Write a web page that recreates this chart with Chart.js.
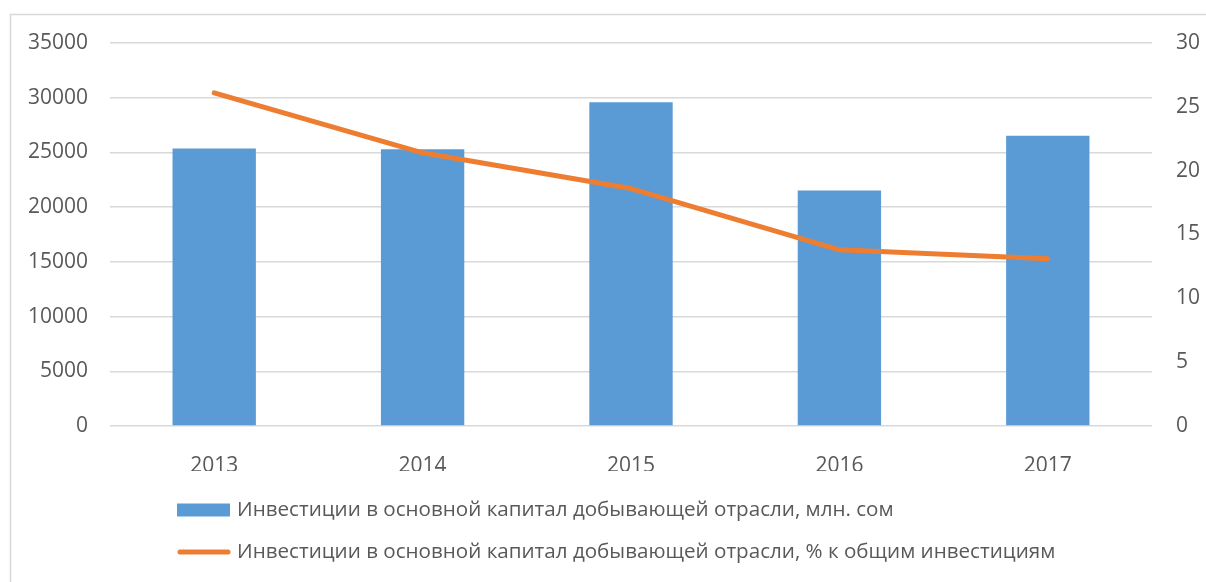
<!DOCTYPE html>
<html>
<head>
<meta charset="utf-8">
<script src="https://cdn.jsdelivr.net/npm/chart.js@4.4.1/dist/chart.umd.min.js"></script>
<style>
  html, body { margin: 0; padding: 0; background: #ffffff; }
  #wrap { position: relative; width: 1206px; height: 582px; }
</style>
</head>
<body>
<div id="wrap"><canvas id="c" width="1206" height="582"></canvas></div>
<script>
const years = ['2013', '2014', '2015', '2016', '2017'];
const investMln = [25370, 25280, 29580, 21530, 26520];
const investPct = [26.1, 21.4, 18.6, 13.8, 13.1];
const leftTicks = [0, 5000, 10000, 15000, 20000, 25000, 30000, 35000];
const rightTicks = [0, 5, 10, 15, 20, 25, 30];
const labelBar = 'Инвестиции в основной капитал добывающей отрасли, млн. сом';
const labelLine = 'Инвестиции в основной капитал добывающей отрасли, % к общим инвестициям';

const FONT = '"Open Sans", "DejaVu Sans", sans-serif';
const TXT = '#595959';
const BLUE = '#5B9BD5';
const ORANGE = '#ED7D31';
const GRID = '#d9d9d9';

const frameAndLegend = {
  id: 'frameAndLegend',
  beforeDraw(chart) {
    const ctx = chart.ctx;
    ctx.save();
    ctx.fillStyle = '#ffffff';
    ctx.fillRect(0, 0, chart.width, chart.height);
    ctx.strokeStyle = GRID;
    ctx.lineWidth = 1.5;
    ctx.strokeRect(10.5, 14.5, 1400, 800);
    ctx.restore();
  },
  afterDraw(chart) {
    const ctx = chart.ctx;
    const ds = chart.data.datasets;
    const bar = ds.find(d => d.type === 'bar');
    const line = ds.find(d => d.type === 'line');
    ctx.save();
    ctx.font = '20.6px ' + FONT;
    ctx.textBaseline = 'middle';
    ctx.textAlign = 'left';
    // bar item
    const y1 = 510;
    ctx.fillStyle = bar.backgroundColor;
    ctx.fillRect(177, y1 - 6.5, 53, 13);
    ctx.fillStyle = TXT;
    ctx.fillText(bar.label, 237, y1);
    // line item
    const y2 = 552;
    ctx.strokeStyle = line.borderColor;
    ctx.lineWidth = 5;
    ctx.lineCap = 'round';
    ctx.beginPath();
    ctx.moveTo(180, y2);
    ctx.lineTo(228, y2);
    ctx.stroke();
    ctx.fillStyle = TXT;
    ctx.fillText(line.label, 237, y2);
    ctx.restore();
  }
};

new Chart(document.getElementById('c'), {
  type: 'bar',
  data: {
    labels: years,
    datasets: [
      {
        type: 'line',
        label: labelLine,
        data: investPct,
        yAxisID: 'y1',
        borderColor: ORANGE,
        backgroundColor: ORANGE,
        borderWidth: 5,
        borderCapStyle: 'round',
        borderJoinStyle: 'round',
        pointRadius: 0,
        tension: 0,
        order: 0
      },
      {
        type: 'bar',
        label: labelBar,
        data: investMln,
        yAxisID: 'y',
        backgroundColor: BLUE,
        borderWidth: 0,
        barPercentage: 0.4,
        categoryPercentage: 1.0,
        order: 1
      }
    ]
  },
  options: {
    responsive: false,
    animation: false,
    events: [],
    layout: { padding: { left: 16, right: 0, top: 43, bottom: 111 } },
    plugins: {
      legend: { display: false },
      tooltip: { enabled: false }
    },
    scales: {
      x: {
        grid: { display: false },
        border: { display: false },
        ticks: { color: TXT, font: { family: FONT, size: 21 }, padding: 19 },
        afterFit(axis) { axis.height = 45; }
      },
      y: {
        position: 'left',
        min: 0,
        max: 35000,
        afterBuildTicks(axis) { axis.ticks = leftTicks.map(v => ({ value: v })); },
        grid: { color: GRID, lineWidth: 1.5, drawTicks: false },
        border: { display: false },
        ticks: { color: TXT, font: { family: FONT, size: 21 }, padding: 22, callback: v => String(v) },
        afterFit(axis) { axis.width = 94; }
      },
      y1: {
        position: 'right',
        min: 0,
        max: 30,
        afterBuildTicks(axis) { axis.ticks = rightTicks.map(v => ({ value: v })); },
        grid: { drawOnChartArea: false, drawTicks: false },
        border: { display: false },
        ticks: { color: TXT, font: { family: FONT, size: 21 }, padding: 24, callback: v => String(v) },
        afterFit(axis) { axis.width = 54; }
      }
    }
  },
  plugins: [frameAndLegend]
});
</script>
</body>
</html>
